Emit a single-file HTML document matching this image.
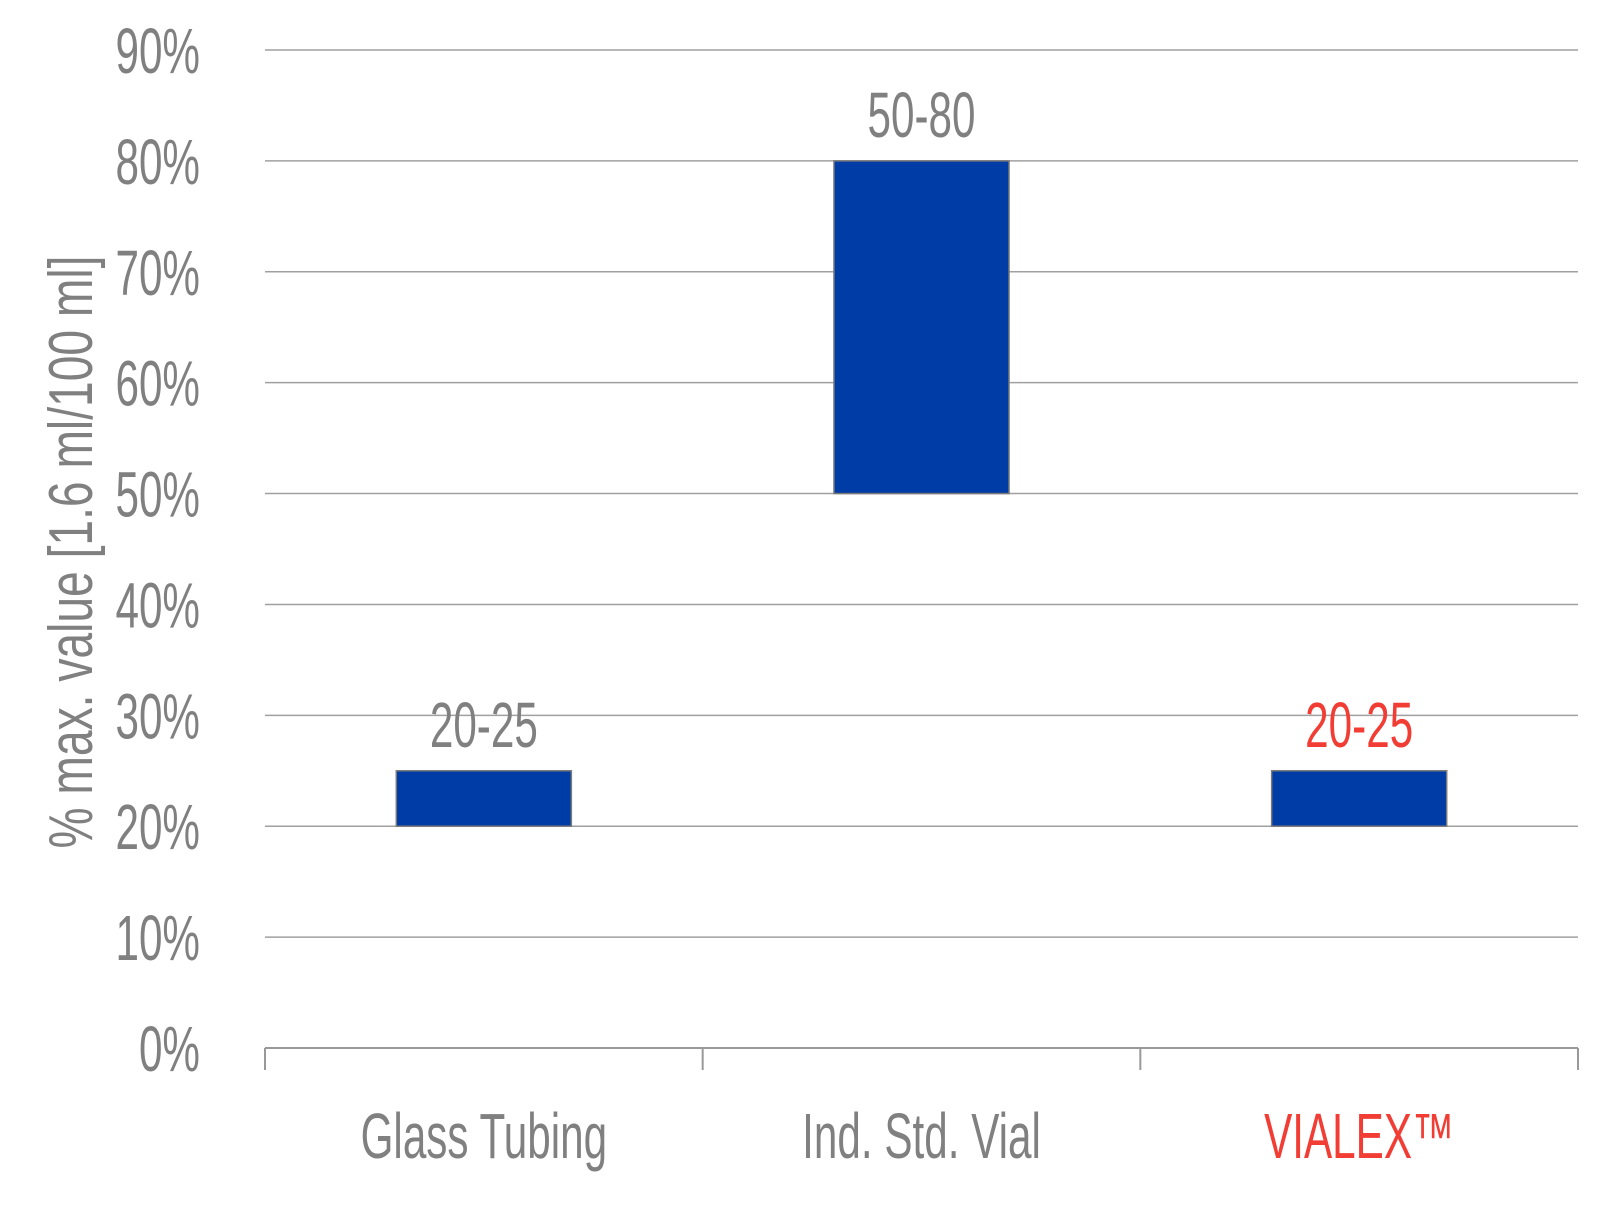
<!DOCTYPE html>
<html><head><meta charset="utf-8"><style>
html,body{margin:0;padding:0;background:#fff;width:1600px;height:1210px;overflow:hidden}
text{font-family:"Liberation Sans Narrow","Liberation Sans",sans-serif}
</style></head><body>
<svg id="chart" width="1600" height="1210" xmlns="http://www.w3.org/2000/svg"></svg>
<script>
const categories=["Glass Tubing","Ind. Std. Vial","VIALEX™"];
const lowValues=[20,50,20];
const highValues=[25,80,25];
const valueLabels=["20-25","50-80","20-25"];
const tickValues=[0,10,20,30,40,50,60,70,80,90];
const tickLabels=["0%","10%","20%","30%","40%","50%","60%","70%","80%","90%"];
const labelColors=["#808080","#808080","#f23d35"];

const NS="http://www.w3.org/2000/svg";
const svg=document.getElementById('chart');
const X0=265,X1=1578,Y0=1048,Y90=50;
const y=v=>Y0-(v/90)*(Y0-Y90);
const bw=(X1-X0)/categories.length;
const xc=i=>X0+bw*(i+0.5);
const SX=0.66;
function mk(tag,attrs){const e=document.createElementNS(NS,tag);for(const k in attrs)e.setAttribute(k,attrs[k]);svg.appendChild(e);return e;}
function txt(str,x,yy,size,anchor,color){
  const g=mk('g',{transform:`translate(${x},${yy}) scale(${SX},1)`});
  const t=document.createElementNS(NS,'text');
  t.setAttribute('x',0);t.setAttribute('y',0);t.setAttribute('font-size',size);
  t.setAttribute('text-anchor',anchor);t.setAttribute('fill',color);
  t.textContent=str;g.appendChild(t);return g;
}
tickValues.forEach((v,i)=>{
  if(v>0){const l=mk('line',{x1:X0,x2:X1,y1:y(v),y2:y(v),stroke:'#a0a0a0','stroke-width':1.5});
  
  }
  const g=txt(tickLabels[i],200,y(v)+23,64,'end','#808080');
  
  
});
const ax=mk('line',{x1:X0,x2:X1,y1:Y0,y2:Y0,stroke:'#999','stroke-width':2});


for(let i=0;i<=categories.length;i++){
  const t=mk('line',{x1:X0+bw*i,x2:X0+bw*i,y1:Y0,y2:1070,stroke:'#999','stroke-width':2});
  
  
}
categories.forEach((c,i)=>{
  const w=bw*0.4;
  const r=mk('rect',{x:xc(i)-w/2,y:y(highValues[i]),width:w,height:y(lowValues[i])-y(highValues[i]),fill:'#003ca6',stroke:'#7a7a7a','stroke-width':1.5});
  
  
  const v=txt(valueLabels[i],xc(i),y(highValues[i])-24,64,'middle',labelColors[i]);
  
  
  const cl=txt(c,xc(i),1158,64,'middle',labelColors[i]);
  
  
});
const tt=document.createElementNS(NS,'text');
tt.setAttribute('transform','translate(92,552) rotate(-90)');
tt.setAttribute('text-anchor','middle');
tt.setAttribute('font-size',62);
tt.setAttribute('fill','#808080');
tt.setAttribute('textLength',593);
tt.setAttribute('lengthAdjust','spacingAndGlyphs');
tt.textContent='% max. value [1.6 ml/100 ml]';


svg.appendChild(tt);
</script>
</body></html>
